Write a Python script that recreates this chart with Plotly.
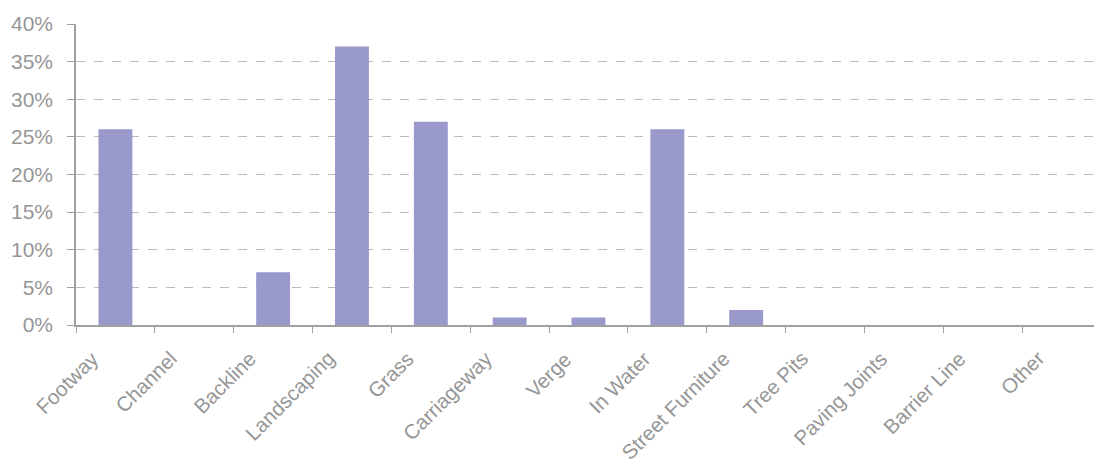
import plotly.graph_objects as go

categories = ["Footway", "Channel", "Backline", "Landscaping", "Grass", "Carriageway",
              "Verge", "In Water", "Street Furniture", "Tree Pits", "Paving Joints",
              "Barrier Line", "Other"]
values = [0.26, 0.0, 0.07, 0.37, 0.27, 0.01, 0.01, 0.26, 0.02, 0.0, 0.0, 0.0, 0.0]
y_ticks = [0, 0.05, 0.10, 0.15, 0.20, 0.25, 0.30, 0.35, 0.40]
y_tick_labels = ["0%", "5%", "10%", "15%", "20%", "25%", "30%", "35%", "40%"]

fig = go.Figure(go.Bar(x=categories, y=values, marker=dict(color="#9999CC", line=dict(width=0))))

yfont = dict(family="Liberation Sans, Arial, sans-serif", size=21, color="#969696")
xfont = dict(family="Liberation Sans, Arial, sans-serif", size=20.5, color="#969696")

fig.update_layout(
    width=1094, height=458,
    margin=dict(l=68, r=1, t=16, b=141, autoexpand=False),
    plot_bgcolor="white", paper_bgcolor="white",
    bargap=0.57, showlegend=False,
    font=yfont,
)
fig.update_xaxes(
    type="category", automargin=False, showticklabels=False,
    range=[-0.5, len(categories) - 0.5],
    showline=True, linecolor="#A0A0A0", linewidth=1.5,
    ticks="outside", tickson="boundaries", ticklen=6, tickcolor="#A0A0A0",
    showgrid=False,
)
fig.update_yaxes(
    range=[0, 0.4], tickvals=y_ticks, ticktext=y_tick_labels, tickfont=yfont,
    automargin=False,
    showline=True, linecolor="#A0A0A0", linewidth=1.5,
    ticks="outside", ticklen=7, tickcolor="#A0A0A0",
    showgrid=True, gridcolor="#BBBBBB", griddash="dash", gridwidth=1,
    zeroline=False, ticklabelstandoff=10,
)
for c in categories:
    fig.add_annotation(
        x=c, xref="x", y=0, yref="paper", text=c, showarrow=False,
        textangle=-45, xanchor="right", yanchor="top",
        xshift=-10, yshift=-19, font=xfont,
    )

fig.write_html("out.html")
